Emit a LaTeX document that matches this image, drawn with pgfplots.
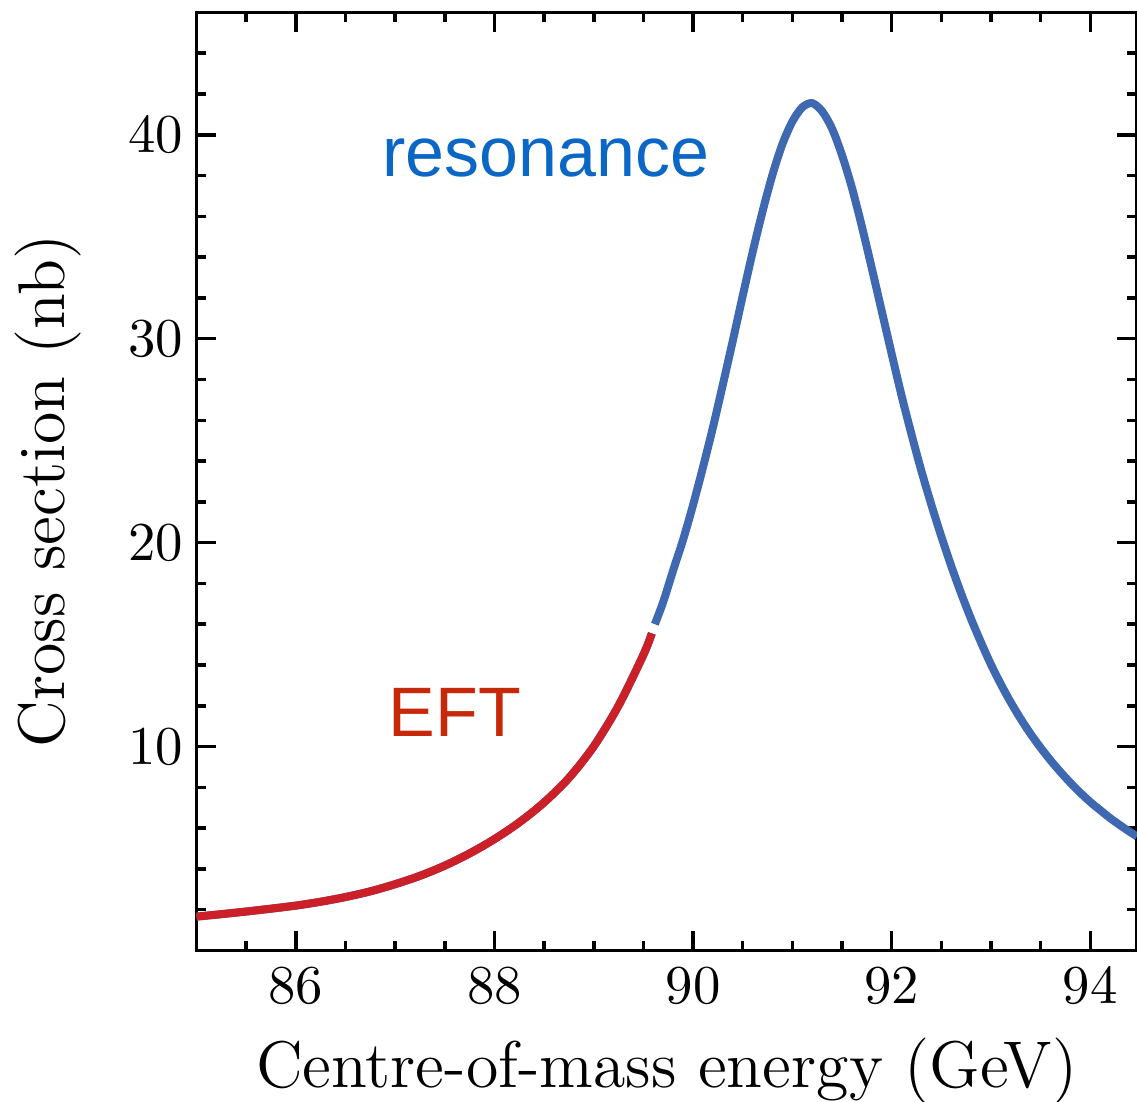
\documentclass[border=0pt]{standalone}
\usepackage{pgfplots}
\pgfplotsset{compat=1.18}
\usepackage{fontspec}
\newfontfamily\helv{Liberation Sans}
\definecolor{curveblue}{RGB}{62,104,176}
\definecolor{curvered}{RGB}{204,32,40}
\definecolor{textblue}{RGB}{10,103,197}
\definecolor{textred}{RGB}{200,40,10}
\begin{document}
\begin{tikzpicture}
\begin{axis}[
  scale only axis, width=188.1pt, height=187.6pt,
  xmin=85, xmax=94.47, ymin=0, ymax=46,
  xtick={86,88,90,92,94}, ytick={10,20,30,40},
  minor xtick={85,85.5,...,94.5}, minor ytick={0,2,...,46},
  tick align=inside, major tick length=3.9pt, minor tick length=1.9pt,
  tick style={black, line width=0.7pt},
  axis line style={black, line width=0.6pt},
  tick label style={font=\fontsize{10.8}{13}\selectfont},
  yticklabel style={xshift=0.9pt},
  label style={font=\fontsize{13.2}{15}\selectfont},
  xlabel={Centre-of-mass energy (GeV)},
  ylabel={Cross section (nb)},
  ylabel style={at={(axis description cs:-0.158,0.49)}, anchor=center},
]
% blue (resonance curve, left part lying underneath the EFT curve)
\addplot[curveblue, line width=1.6pt, smooth] coordinates {
(85.0,1.66) (85.25,1.78) (85.5,1.91) (85.75,2.05) (86.0,2.2) (86.25,2.39)
(86.5,2.62) (86.75,2.9) (87.0,3.25) (87.25,3.66) (87.5,4.16) (87.75,4.76)
(88.0,5.46) (88.25,6.28) (88.5,7.26) (88.75,8.46) (89.0,10.01) (89.25,12.01)
(89.5,14.5) (89.585,15.55)
};
% EFT curve
\addplot[curvered, line width=1.6pt, smooth] coordinates {
(85.0,1.66) (85.25,1.78) (85.5,1.91) (85.75,2.05) (86.0,2.2) (86.25,2.39)
(86.5,2.62) (86.75,2.9) (87.0,3.25) (87.25,3.66) (87.5,4.16) (87.75,4.76)
(88.0,5.46) (88.25,6.28) (88.5,7.26) (88.75,8.46) (89.0,10.01) (89.25,12.01)
(89.5,14.5) (89.585,15.55)
};
% resonance curve
\addplot[curveblue, line width=1.6pt, smooth] coordinates {
(89.615,16.0) (89.7,17.1) (89.8,18.65) (89.9,20.15) (90.0,21.85) (90.1,23.7)
(90.2,25.65) (90.3,27.75) (90.4,29.9) (90.5,32.1) (90.6,34.25) (90.7,36.25)
(90.8,38.05) (90.9,39.55) (91.0,40.65) (91.1,41.35) (91.2,41.55) (91.3,41.15)
(91.4,40.3) (91.5,39.0) (91.6,37.4) (91.7,35.5) (91.8,33.45) (91.9,31.35)
(92.0,29.25) (92.1,27.2) (92.2,25.3) (92.3,23.5) (92.4,21.85) (92.5,20.3)
(92.6,18.85) (92.7,17.5) (92.8,16.25) (92.9,15.1) (93.0,14.02) (93.1,13.05)
(93.2,12.16) (93.3,11.35) (93.4,10.61) (93.5,9.94) (93.6,9.32) (93.7,8.75)
(93.8,8.22) (93.9,7.73) (94.0,7.28) (94.1,6.88) (94.2,6.49) (94.3,6.14)
(94.4,5.81) (94.47,5.59)
};
\node[font=\helv\fontsize{14}{16}\selectfont, text=textblue] at (axis cs:88.52,38.87) {resonance};
\node[font=\helv\fontsize{14}{16}\selectfont, text=textred] at (axis cs:87.6,11.66) {EFT};
\end{axis}
\pgfresetboundingbox
\path[use as bounding box] ([xshift=-39.3pt,yshift=-30.3pt]current axis.south west) rectangle ([yshift=2.5pt]current axis.north east);
\end{tikzpicture}
\end{document}
